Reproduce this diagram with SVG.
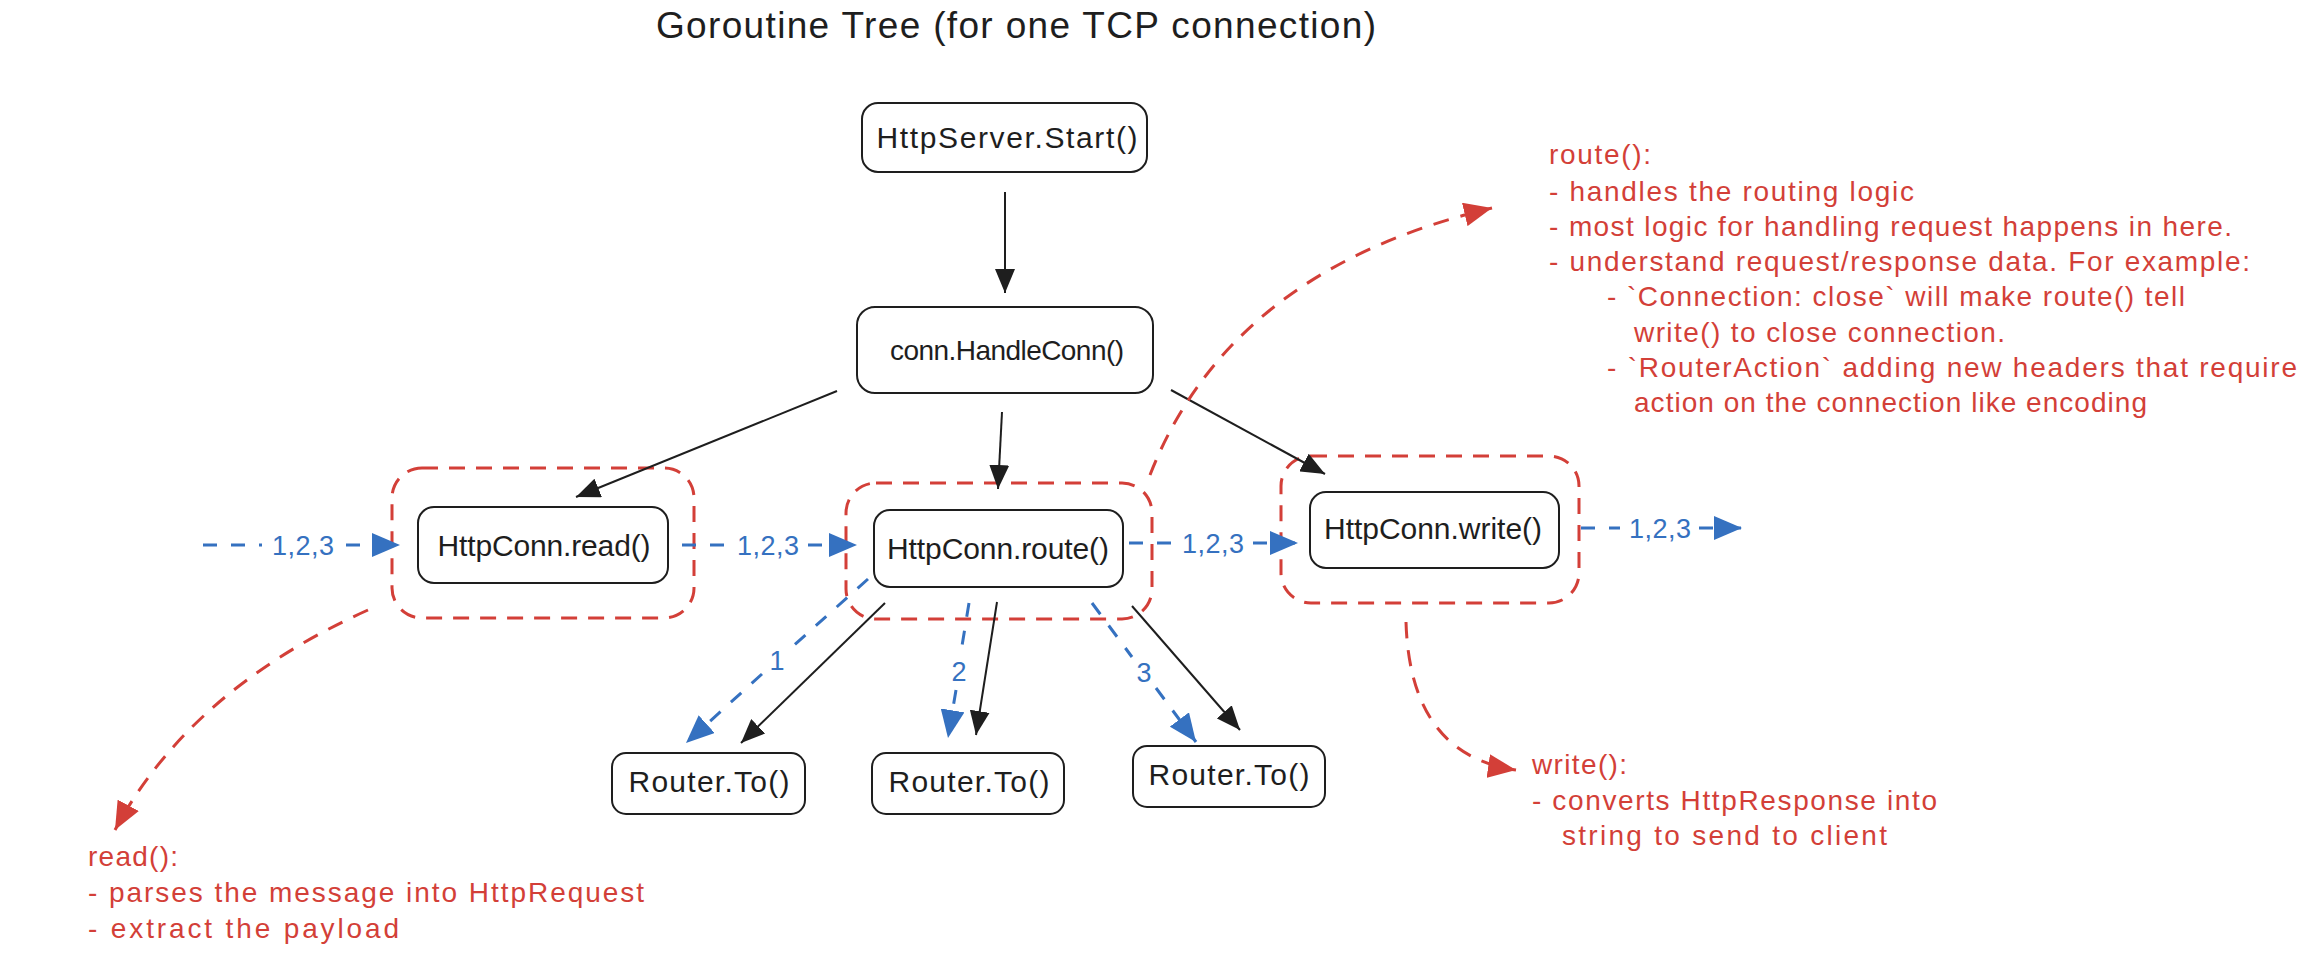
<svg xmlns="http://www.w3.org/2000/svg" width="2310" height="964" viewBox="0 0 2310 964">
<defs>
<style>
text{font-family:"Liberation Sans",Arial,sans-serif}
.title{font-size:37px;fill:#1e1e1e}
.box{fill:#ffffff;stroke:#1e1e1e;stroke-width:2}
.lbl{font-size:30px;fill:#1e1e1e;text-anchor:middle}
.grp{fill:none;stroke:#d33f38;stroke-width:3;stroke-dasharray:16 11}
.blk{fill:none;stroke:#1e1e1e;stroke-width:2}
.blu{fill:none;stroke:#3571c0;stroke-width:3;stroke-dasharray:14 14}
.red{fill:none;stroke:#d33f38;stroke-width:3;stroke-dasharray:16 12}
.bt{font-size:27px;fill:#3571c0;text-anchor:middle}
.note{font-size:28px;fill:#d33f38}
</style>
<marker id="ak" viewBox="0 0 24 20" refX="24" refY="10" markerWidth="24" markerHeight="20" markerUnits="userSpaceOnUse" orient="auto"><path d="M0,0 L24,10 L0,20 z" fill="#1e1e1e"/></marker>
<marker id="ab" viewBox="0 0 28 24" refX="28" refY="12" markerWidth="28" markerHeight="24" markerUnits="userSpaceOnUse" orient="auto"><path d="M0,0 L28,12 L0,24 z" fill="#3571c0"/></marker>
<marker id="ar" viewBox="0 0 28 24" refX="28" refY="12" markerWidth="28" markerHeight="24" markerUnits="userSpaceOnUse" orient="auto"><path d="M0,0 L28,12 L0,24 z" fill="#d33f38"/></marker>
</defs>
<rect width="2310" height="964" fill="#ffffff"/>
<text class="title" x="656" y="38" textLength="720" lengthAdjust="spacing">Goroutine Tree (for one TCP connection)</text>

<g id="groups">
<rect class="grp" x="392" y="468" width="302" height="150" rx="30"/>
<rect class="grp" x="846" y="483" width="306" height="136" rx="30"/>
<rect class="grp" x="1281" y="456" width="298" height="147" rx="30"/>
</g>

<g id="connectors">
<path class="blk" d="M1005,192 L1005,293" marker-end="url(#ak)"/>
<path class="blk" d="M837,391 L576,497" marker-end="url(#ak)"/>
<path class="blk" d="M1002,412 L998,489" marker-end="url(#ak)"/>
<path class="blk" d="M1171,390 L1325,474" marker-end="url(#ak)"/>
<path class="blk" d="M885,603 L741,743" marker-end="url(#ak)"/>
<path class="blk" d="M997,602 L976,735" marker-end="url(#ak)"/>
<path class="blk" d="M1132,606 L1240,730" marker-end="url(#ak)"/>

<path class="blu" d="M203,545 L262,545"/>
<path class="blu" d="M346,545 L400,545" marker-end="url(#ab)"/>
<path class="blu" d="M682,545 L728,545"/>
<path class="blu" d="M808,545 L857,545" marker-end="url(#ab)"/>
<path class="blu" d="M1129,543 L1174,543"/>
<path class="blu" d="M1253,543 L1298,543" marker-end="url(#ab)"/>
<path class="blu" d="M1581,528 L1620,528"/>
<path class="blu" d="M1699,528 L1742,528" marker-end="url(#ab)"/>
<path class="blu" d="M868,579 L792,647"/>
<path class="blu" d="M762,674 L686,743" marker-end="url(#ab)"/>
<path class="blu" d="M969,603 L961,652"/>
<path class="blu" d="M956,690 L948,738" marker-end="url(#ab)"/>
<path class="blu" d="M1092,603 L1132,657"/>
<path class="blu" d="M1156,688 L1196,742" marker-end="url(#ab)"/>

<text class="bt" x="303" y="555" textLength="62" lengthAdjust="spacing">1,2,3</text>
<text class="bt" x="768" y="555" textLength="62" lengthAdjust="spacing">1,2,3</text>
<text class="bt" x="1213" y="553" textLength="62" lengthAdjust="spacing">1,2,3</text>
<text class="bt" x="1660" y="538" textLength="62" lengthAdjust="spacing">1,2,3</text>
<text class="bt" x="777" y="670">1</text>
<text class="bt" x="959" y="681">2</text>
<text class="bt" x="1144" y="682">3</text>

<path class="red" d="M1150,475 Q1230,270 1492,208" marker-end="url(#ar)"/>
<path class="red" d="M368,610 Q190,690 115,830" marker-end="url(#ar)"/>
<path class="red" d="M1406,622 Q1410,755 1516,770" marker-end="url(#ar)"/>
</g>

<g id="n-start"><rect class="box" x="862" y="103" width="285" height="69" rx="16"/><text class="lbl" x="1007" y="148" textLength="261" lengthAdjust="spacing">HttpServer.Start()</text></g>
<g id="n-handle"><rect class="box" x="857" y="307" width="296" height="86" rx="18"/><text class="lbl" x="1007" y="360" style="font-size:28px" textLength="234" lengthAdjust="spacing">conn.HandleConn()</text></g>
<g id="n-read"><rect class="box" x="418" y="507" width="250" height="76" rx="16"/><text class="lbl" x="544" y="556" textLength="213" lengthAdjust="spacing">HttpConn.read()</text></g>
<g id="n-route"><rect class="box" x="874" y="510" width="249" height="77" rx="16"/><text class="lbl" x="998" y="559" textLength="222" lengthAdjust="spacing">HttpConn.route()</text></g>
<g id="n-write"><rect class="box" x="1310" y="492" width="249" height="76" rx="16"/><text class="lbl" x="1433" y="539" textLength="218" lengthAdjust="spacing">HttpConn.write()</text></g>
<g id="n-router1"><rect class="box" x="612" y="753" width="193" height="61" rx="14"/><text class="lbl" x="709" y="792" textLength="161" lengthAdjust="spacing">Router.To()</text></g>
<g id="n-router2"><rect class="box" x="872" y="753" width="192" height="61" rx="14"/><text class="lbl" x="969" y="792" textLength="161" lengthAdjust="spacing">Router.To()</text></g>
<g id="n-router3"><rect class="box" x="1133" y="746" width="192" height="61" rx="14"/><text class="lbl" x="1229" y="785" textLength="161" lengthAdjust="spacing">Router.To()</text></g>

<g id="note-route">
<text class="note" x="1549" y="164" textLength="102" lengthAdjust="spacing">route():</text>
<text class="note" x="1549" y="201" textLength="365" lengthAdjust="spacing">- handles the routing logic</text>
<text class="note" x="1549" y="236" textLength="683" lengthAdjust="spacing">- most logic for handling request happens in here.</text>
<text class="note" x="1549" y="271" textLength="701" lengthAdjust="spacing">- understand request/response data. For example:</text>
<text class="note" x="1607" y="306" textLength="578" lengthAdjust="spacing">- `Connection: close` will make route() tell</text>
<text class="note" x="1634" y="342" textLength="371" lengthAdjust="spacing">write() to close connection.</text>
<text class="note" x="1607" y="377" textLength="690" lengthAdjust="spacing">- `RouterAction` adding new headers that require</text>
<text class="note" x="1634" y="412" textLength="513" lengthAdjust="spacing">action on the connection like encoding</text>
</g>
<g id="note-read">
<text class="note" x="88" y="866" textLength="90" lengthAdjust="spacing">read():</text>
<text class="note" x="88" y="902" textLength="556" lengthAdjust="spacing">- parses the message into HttpRequest</text>
<text class="note" x="88" y="938" textLength="311" lengthAdjust="spacing">- extract the payload</text>
</g>
<g id="note-write">
<text class="note" x="1532" y="774" textLength="95" lengthAdjust="spacing">write():</text>
<text class="note" x="1532" y="810" textLength="405" lengthAdjust="spacing">- converts HttpResponse into</text>
<text class="note" x="1562" y="845" textLength="325" lengthAdjust="spacing">string to send to client</text>
</g>
</svg>
